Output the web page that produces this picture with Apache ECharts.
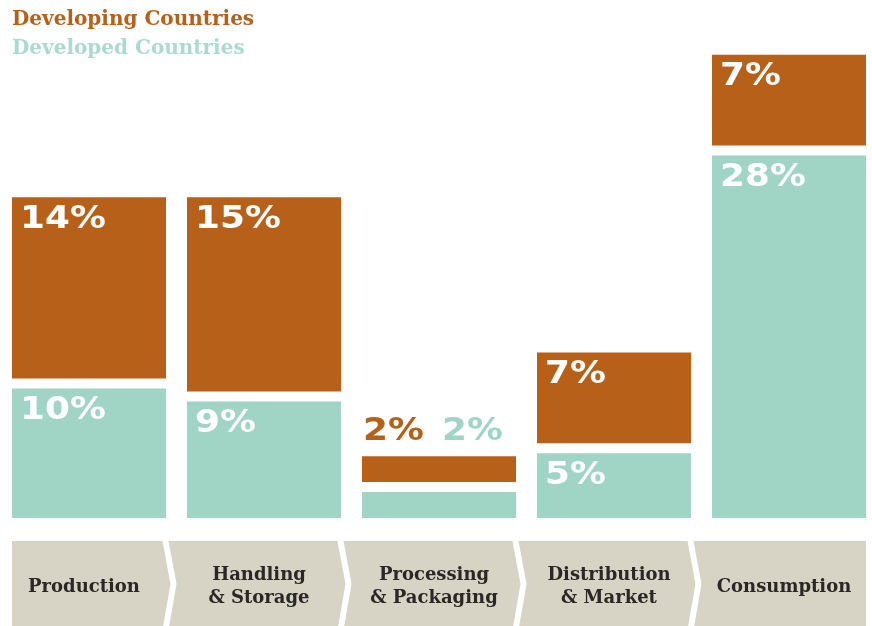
<!DOCTYPE html>
<html><head><meta charset="utf-8">
<script src="https://cdn.jsdelivr.net/npm/echarts@6/dist/echarts.min.js"></script>
<style>html,body{margin:0;padding:0;background:#fff}#c{width:872px;height:626px}</style>
</head><body><div id="c"></div>
<script>
const categories = ['Production', 'Handling\n& Storage', 'Processing\n& Packaging', 'Distribution\n& Market', 'Consumption'];
const developing = [14, 15, 2, 7, 7];
const developed = [10, 9, 2, 5, 28];
const seriesNames = ['Developing Countries', 'Developed Countries'];

const BROWN = '#b7601a', TEAL = '#a0d4c5', LEG_TEAL = '#abdbcf', BAND = '#d8d4c5';
const GAP = 10;
const LABEL_FONT = 'bold 32px "DejaVu Sans"';
const LABEL_SX = 1.12;
const SMALL_H = 45;

function render(isTop) {
  return function (params, api) {
    const i = api.value(0);
    const val = api.value(1);
    const other = api.value(2);
    const bw = api.size([1, 0])[0] * 0.88;
    const base = isTop ? other : 0;
    const off = isTop ? GAP : 0;
    const p0 = api.coord([i, base]);
    const p1 = api.coord([i, base + val]);
    const x = p0[0] - bw / 2;
    const yB = p0[1] - off;
    const yT = p1[1] - off;
    const h = yB - yT;
    const color = isTop ? BROWN : TEAL;
    const children = [{
      type: 'rect',
      shape: { x: x, y: yT, width: bw, height: h },
      style: { fill: color }
    }];
    const txt = val + '%';
    if (h >= SMALL_H) {
      const tx = x + 8, ty = yT + 6;
      children.push({
        type: 'text', z2: 10, x: tx, y: ty, scaleX: LABEL_SX,
        style: { text: txt, x: 0, y: 0, fill: '#ffffff', font: LABEL_FONT,
          align: 'left', verticalAlign: 'top', textAlign: 'left', textVerticalAlign: 'top' }
      });
    } else {
      let brownTop;
      if (isTop) brownTop = yT;
      else brownTop = api.coord([i, val + other])[1] - GAP;
      const tx = x + (isTop ? 1 : 80), ty = brownTop - 9;
      children.push({
        type: 'text', z2: 10, x: tx, y: ty, scaleX: LABEL_SX,
        style: { text: txt, x: 0, y: 0, fill: color, font: LABEL_FONT,
          align: 'left', verticalAlign: 'bottom', textAlign: 'left', textVerticalAlign: 'bottom' }
      });
    }
    return { type: 'group', children: children };
  };
}

const chart = echarts.init(document.getElementById('c'), null, { renderer: 'canvas' });
const option = {
  backgroundColor: '#ffffff',
  animation: false,
  legend: {
    orient: 'vertical', left: 2, top: 5, itemWidth: 0, itemHeight: 20, itemGap: 9, icon: 'none',
    selectedMode: false,
    textStyle: { fontFamily: 'DejaVu Serif', fontWeight: 'bold', fontSize: 20, padding: 0 },
    data: [
      { name: seriesNames[0], textStyle: { color: BROWN } },
      { name: seriesNames[1], textStyle: { color: LEG_TEAL } }
    ]
  },
  grid: { left: 89, right: 83, top: 0, bottom: 108 },
  xAxis: {
    type: 'category', data: categories, z: 10, boundaryGap: false,
    axisLine: { show: false }, axisTick: { show: false },
    axisLabel: {
      interval: 0, margin: 69, verticalAlign: 'middle', lineHeight: 23,
      fontFamily: 'DejaVu Serif', fontWeight: 'bold', fontSize: 18, color: '#2a2724',
      padding: [0, 10, 0, 0]
    }
  },
  yAxis: { type: 'value', min: 0, max: 40, show: false },
  series: [
    {
      name: seriesNames[1], type: 'custom', color: TEAL, clip: false,
      renderItem: render(false), encode: { x: 0, y: 1 },
      data: categories.map((c, i) => [i, developed[i], developing[i]])
    },
    {
      name: seriesNames[0], type: 'custom', color: BROWN, clip: false,
      renderItem: render(true), encode: { x: 0, y: 1 },
      data: categories.map((c, i) => [i, developing[i], developed[i]])
    }
  ]
};
chart.setOption(option);

(function () {
  const centers = categories.map((c, i) => chart.convertToPixel({ xAxisIndex: 0 }, i));
  const step = centers[1] - centers[0];
  const half = step * 0.88 / 2;
  const bandTop = 541, bandBottom = 630, bandMid = 584;
  const shapes = centers.map((c, i) => {
    const pts = [];
    if (i === 0) { pts.push([c - half, bandTop]); }
    else { const B = (centers[i - 1] + c) / 2; pts.push([B - 8, bandTop]); }
    if (i === centers.length - 1) {
      pts.push([c + half, bandTop], [c + half, bandBottom]);
    } else {
      const B = (c + centers[i + 1]) / 2;
      pts.push([B - 14, bandTop], [B - 6, bandMid], [B - 14, bandBottom]);
    }
    if (i === 0) { pts.push([c - half, bandBottom]); }
    else { const B = (centers[i - 1] + c) / 2; pts.push([B - 8, bandBottom], [B, bandMid]); }
    return { type: 'polygon', z: -10, silent: true, shape: { points: pts }, style: { fill: BAND } };
  });
  chart.setOption({ graphic: { elements: shapes } });
})();
</script>
</body></html>
